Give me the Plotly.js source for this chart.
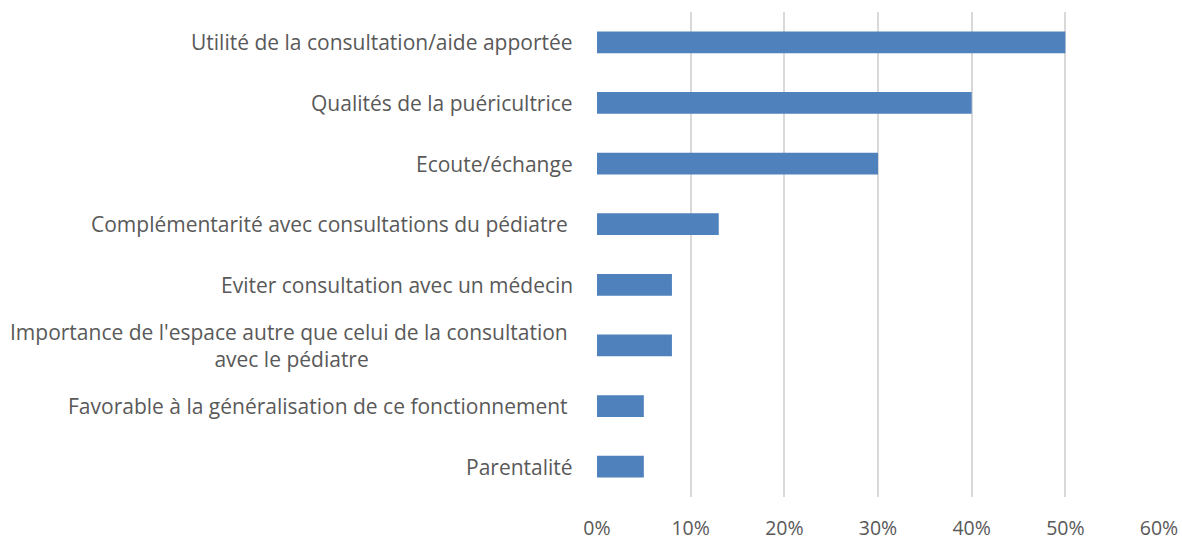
<!DOCTYPE html>
<html><head><meta charset="utf-8">
<script src="https://cdn.plot.ly/plotly-3.0.1.min.js"></script>
<style>html,body{margin:0;padding:0;background:#fff}#c{width:1182px;height:541px}</style>
</head><body><div id="c"></div>
<script>
const categories = [
  "Utilité de la consultation/aide apportée",
  "Qualités de la puéricultrice",
  "Ecoute/échange",
  "Complémentarité avec consultations du pédiatre ",
  "Eviter consultation avec un médecin",
  "Importance de l'espace autre que celui de la consultation <br>avec le pédiatre",
  "Favorable à la généralisation de ce fonctionnement ",
  "Parentalité"
];
const values = [0.50, 0.40, 0.30, 0.13, 0.08, 0.08, 0.05, 0.05];
const tickVals = [0, 0.1, 0.2, 0.3, 0.4, 0.5, 0.6];
const tickText = ["0%", "10%", "20%", "30%", "40%", "50%", "60%"];

const FONT = "'Open Sans', sans-serif";
const ids = categories.map((c, i) => i);

const annotations = categories.map((c, i) => ({
  xref: "paper", yref: "y", x: 0, y: i, xanchor: "right", yanchor: "middle",
  xshift: -22, text: c.replace(/ $/, "&nbsp;").replace(" <br>", "&nbsp;<br>"), showarrow: false, align: "center",
  font: {family: FONT, size: 21, color: "#595959"}
}));

Plotly.newPlot("c", [{
  type: "bar", orientation: "h", x: values, y: ids,
  marker: {color: "#4f81bd"}, width: 0.36, hoverinfo: "x+y"
}], {
  width: 1182, height: 541,
  margin: {l: 597, r: 23, t: 12, b: 44},
  paper_bgcolor: "#fff", plot_bgcolor: "#fff",
  showlegend: false,
  bargap: 0.64,
  xaxis: {range: [0, 0.6], tickvals: tickVals, ticktext: tickText,
    showgrid: true, gridcolor: "#d9d9d9", gridwidth: 2, zeroline: false,
    showline: false, ticks: "", ticklabelstandoff: 17,
    tickfont: {family: FONT, size: 19.5, color: "#595959"}, fixedrange: true},
  yaxis: {range: [7.5, -0.5], showticklabels: false, showgrid: false,
    zeroline: false, showline: false, ticks: "", fixedrange: true},
  annotations: annotations
}, {displayModeBar: false, staticPlot: true});
</script></body></html>
